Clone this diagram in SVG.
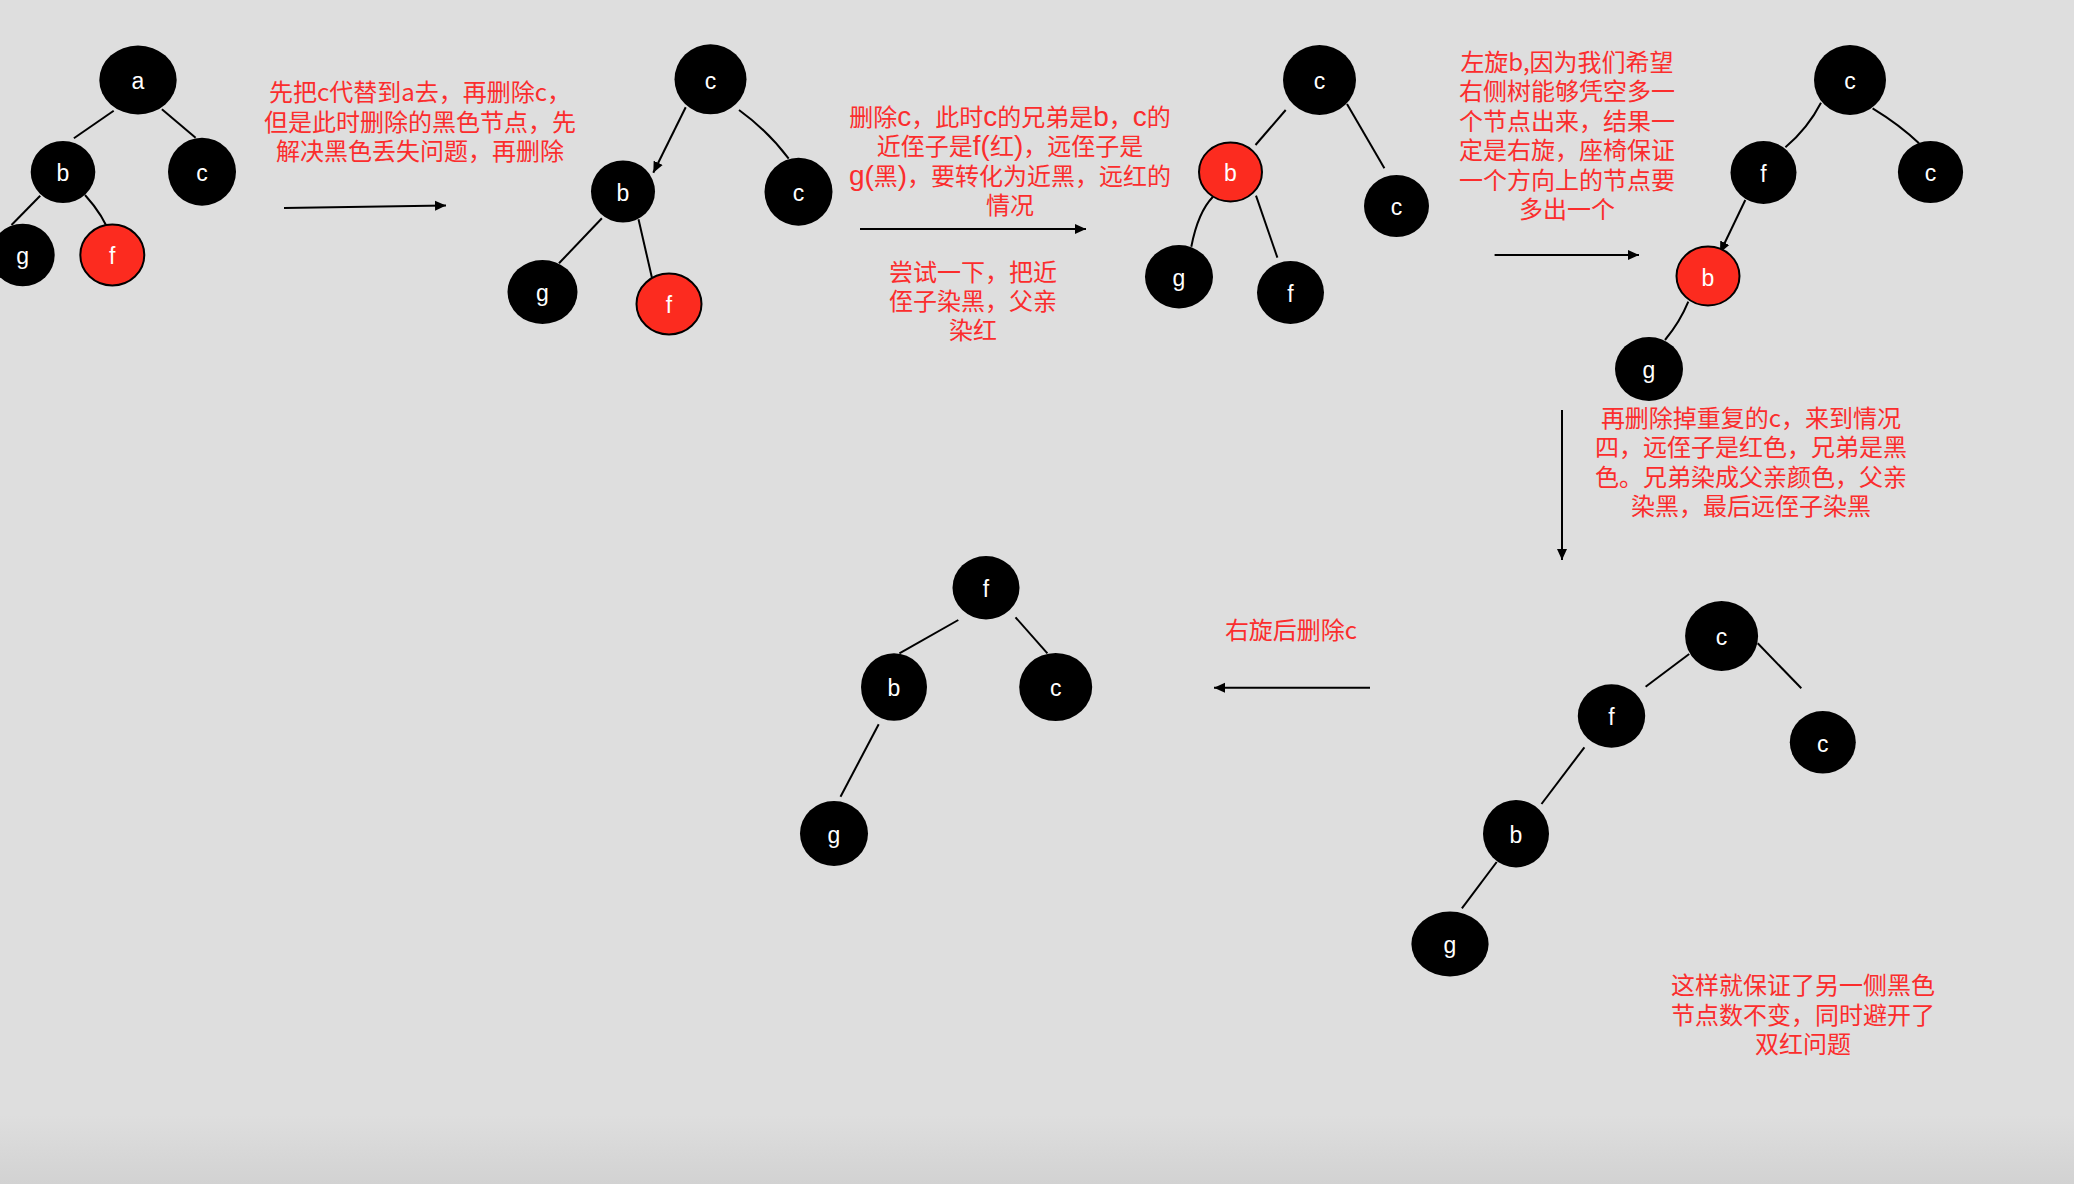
<svg xmlns="http://www.w3.org/2000/svg" width="2074" height="1184" viewBox="0 0 2074 1184">
<defs>
<linearGradient id="bg" x1="0" y1="0" x2="0" y2="1">
<stop offset="0" stop-color="#dedede"/>
<stop offset="1" stop-color="#d2d2d2"/>
</linearGradient>
<marker id="ah" markerUnits="userSpaceOnUse" markerWidth="12" markerHeight="12" refX="11" refY="6" orient="auto">
<path d="M0,1 L11,6 L0,11 z" fill="#000"/>
</marker>
<style>
.nb{fill:#000;}
.nr{fill:#fc2b1f;stroke:#000;stroke-width:2;}
.lbl{fill:#fff;font-family:"Liberation Sans","Noto Sans",sans-serif;font-size:23px;text-anchor:middle;}
.e{fill:none;stroke:#000;stroke-width:2;}
.a{fill:none;stroke:#000;stroke-width:2;marker-end:url(#ah);}
.t{fill:#fb2d2d;font-family:"Noto Sans CJK SC","Liberation Sans",sans-serif;font-size:24px;text-anchor:middle;}
.lat{font-family:"Liberation Sans","Noto Sans CJK SC",sans-serif;font-size:28px;}
</style>
</defs>
<rect x="0" y="0" width="2074" height="1184" fill="#dedede"/>
<rect x="0" y="1115" width="2074" height="69" fill="url(#bg)"/>

<g id="connectors">
<!-- tree 1 -->
<line class="e" x1="113.7" y1="110.7" x2="73.9" y2="138.3"/>
<line class="e" x1="161.9" y1="109.3" x2="195.6" y2="137.7"/>
<line class="e" x1="40.2" y1="195.7" x2="11.5" y2="225"/>
<path class="e" d="M85,195 Q104,216 111,237"/>
<!-- tree 2 -->
<line class="a" x1="685.7" y1="107.3" x2="653.3" y2="172.7"/>
<path class="e" d="M739,110 Q768,131 788.7,158.7"/>
<line class="e" x1="601.9" y1="218.3" x2="559" y2="263.3"/>
<line class="e" x1="638.5" y1="219.3" x2="654" y2="286.7"/>
<!-- tree 3 -->
<line class="e" x1="1285.7" y1="110" x2="1255.5" y2="145"/>
<line class="e" x1="1347" y1="104" x2="1384.4" y2="168.3"/>
<path class="e" d="M1213,196.7 Q1198,212 1191.3,246.7"/>
<line class="e" x1="1256" y1="195.7" x2="1277.4" y2="257.7"/>
<!-- tree 4 -->
<path class="e" d="M1821,102.7 Q1808,128 1785.4,147.3"/>
<path class="e" d="M1872.6,108.3 Q1900,125 1919,143.3"/>
<line class="a" x1="1745.3" y1="200" x2="1720" y2="252.7"/>
<path class="e" d="M1688.3,301.7 Q1680,322 1665,340"/>
<!-- tree 5 -->
<line class="e" x1="1689.2" y1="654" x2="1645.6" y2="686.7"/>
<line class="e" x1="1757.7" y1="643.3" x2="1801.3" y2="688.3"/>
<line class="e" x1="1584.4" y1="747.3" x2="1541.5" y2="804"/>
<line class="e" x1="1496.7" y1="862" x2="1461.9" y2="908.3"/>
<!-- tree 6 -->
<line class="e" x1="958.3" y1="620" x2="899.4" y2="653.3"/>
<line class="e" x1="1015.5" y1="617.3" x2="1047.4" y2="653.3"/>
<line class="e" x1="878.7" y1="724.3" x2="840.5" y2="796.7"/>
<!-- step arrows -->
<line class="a" x1="284" y1="208" x2="446" y2="205.5"/>
<line class="a" x1="860" y1="229" x2="1086" y2="229"/>
<line class="a" x1="1494.6" y1="255" x2="1639" y2="255"/>
<line class="a" x1="1562" y1="410" x2="1562" y2="560"/>
<line class="a" x1="1370" y1="687.7" x2="1214" y2="687.7"/>
</g>

<!-- tree 1 -->
<g id="t1-a"><ellipse class="nb" cx="138" cy="80" rx="38.7" ry="34.5"/><text class="lbl" x="138" y="89">a</text></g>
<g id="t1-b"><ellipse class="nb" cx="63" cy="172" rx="32.3" ry="31"/><text class="lbl" x="63" y="181">b</text></g>
<g id="t1-c"><ellipse class="nb" cx="202" cy="171.7" rx="34" ry="34"/><text class="lbl" x="202" y="181">c</text></g>
<g id="t1-g"><ellipse class="nb" cx="22.7" cy="255" rx="32" ry="31.3"/><text class="lbl" x="22.7" y="264">g</text></g>
<g id="t1-f"><ellipse class="nr" cx="112.3" cy="255" rx="32" ry="30.5"/><text class="lbl" x="112.3" y="264">f</text></g>

<!-- tree 2 -->
<g id="t2-c"><ellipse class="nb" cx="710.5" cy="79.3" rx="36" ry="35"/><text class="lbl" x="710.5" y="88.5">c</text></g>
<g id="t2-b"><ellipse class="nb" cx="623" cy="191.5" rx="32" ry="31"/><text class="lbl" x="623" y="200.5">b</text></g>
<g id="t2-c2"><ellipse class="nb" cx="798.5" cy="191.7" rx="34" ry="34"/><text class="lbl" x="798.5" y="201">c</text></g>
<g id="t2-g"><ellipse class="nb" cx="542.5" cy="292" rx="35" ry="32"/><text class="lbl" x="542.5" y="301">g</text></g>
<g id="t2-f"><ellipse class="nr" cx="669" cy="304" rx="32.5" ry="30.5"/><text class="lbl" x="669" y="313">f</text></g>

<!-- tree 3 -->
<g id="t3-c"><ellipse class="nb" cx="1319.5" cy="80" rx="36.5" ry="35"/><text class="lbl" x="1319.5" y="89">c</text></g>
<g id="t3-b"><ellipse class="nr" cx="1230.5" cy="172" rx="31.5" ry="29.5"/><text class="lbl" x="1230.5" y="181">b</text></g>
<g id="t3-c2"><ellipse class="nb" cx="1396.5" cy="206" rx="32.5" ry="31"/><text class="lbl" x="1396.5" y="215">c</text></g>
<g id="t3-g"><ellipse class="nb" cx="1179" cy="276.7" rx="34" ry="31.7"/><text class="lbl" x="1179" y="285.5">g</text></g>
<g id="t3-f"><ellipse class="nb" cx="1290.5" cy="292.5" rx="33.5" ry="31.5"/><text class="lbl" x="1290.5" y="301.5">f</text></g>

<!-- tree 4 -->
<g id="t4-c"><ellipse class="nb" cx="1850" cy="80" rx="36" ry="35"/><text class="lbl" x="1850" y="89">c</text></g>
<g id="t4-f"><ellipse class="nb" cx="1763.5" cy="172.5" rx="33" ry="31.5"/><text class="lbl" x="1763.5" y="181.5">f</text></g>
<g id="t4-c2"><ellipse class="nb" cx="1930.5" cy="172" rx="32.6" ry="31"/><text class="lbl" x="1930.5" y="181">c</text></g>
<g id="t4-b"><ellipse class="nr" cx="1708" cy="276" rx="31.5" ry="29.5"/><text class="lbl" x="1708" y="285.5">b</text></g>
<g id="t4-g"><ellipse class="nb" cx="1649" cy="369" rx="34" ry="32"/><text class="lbl" x="1649" y="378">g</text></g>

<!-- tree 5 -->
<g id="t5-c"><ellipse class="nb" cx="1721.6" cy="636" rx="36.5" ry="35"/><text class="lbl" x="1721.6" y="645">c</text></g>
<g id="t5-f"><ellipse class="nb" cx="1611.5" cy="716" rx="33.7" ry="31.7"/><text class="lbl" x="1611.5" y="725">f</text></g>
<g id="t5-c2"><ellipse class="nb" cx="1822.8" cy="742.3" rx="33" ry="31.3"/><text class="lbl" x="1822.8" y="751.5">c</text></g>
<g id="t5-b"><ellipse class="nb" cx="1516" cy="833.7" rx="33" ry="33.7"/><text class="lbl" x="1516" y="843">b</text></g>
<g id="t5-g"><ellipse class="nb" cx="1450" cy="944" rx="38.6" ry="32.5"/><text class="lbl" x="1450" y="953">g</text></g>

<!-- tree 6 -->
<g id="t6-f"><ellipse class="nb" cx="986" cy="587.7" rx="33.5" ry="31.7"/><text class="lbl" x="986" y="596.5">f</text></g>
<g id="t6-b"><ellipse class="nb" cx="894" cy="687" rx="33" ry="33.8"/><text class="lbl" x="894" y="696">b</text></g>
<g id="t6-c"><ellipse class="nb" cx="1055.7" cy="687" rx="36.5" ry="34"/><text class="lbl" x="1055.7" y="696">c</text></g>
<g id="t6-g"><ellipse class="nb" cx="834" cy="833.5" rx="34" ry="32.5"/><text class="lbl" x="834" y="842.5">g</text></g>

<!-- notes -->
<g id="note1">
<text class="t" x="420" y="101">先把c代替到a去，再删除c，</text>
<text class="t" x="420" y="130.5">但是此时删除的黑色节点，先</text>
<text class="t" x="420" y="160">解决黑色丢失问题，再删除</text>
</g>
<g id="note2">
<text class="t" x="1010" y="125.5">删除<tspan class="lat">c</tspan>，此时<tspan class="lat">c</tspan>的兄弟是<tspan class="lat">b</tspan>，<tspan class="lat">c</tspan>的</text>
<text class="t" x="1010" y="155">近侄子是<tspan class="lat">f(</tspan>红<tspan class="lat">)</tspan>，远侄子是</text>
<text class="t" x="1010" y="184.5"><tspan class="lat">g(</tspan>黑<tspan class="lat">)</tspan>，要转化为近黑，远红的</text>
<text class="t" x="1010" y="214">情况</text>
</g>
<g id="note3">
<text class="t" x="973" y="281">尝试一下，把近</text>
<text class="t" x="973" y="310">侄子染黑，父亲</text>
<text class="t" x="973" y="339">染红</text>
</g>
<g id="note4">
<text class="t" x="1567" y="70.5">左旋b,因为我们希望</text>
<text class="t" x="1567" y="100">右侧树能够凭空多一</text>
<text class="t" x="1567" y="129.5">个节点出来，结果一</text>
<text class="t" x="1567" y="159">定是右旋，座椅保证</text>
<text class="t" x="1567" y="188.5">一个方向上的节点要</text>
<text class="t" x="1567" y="218">多出一个</text>
</g>
<g id="note5">
<text class="t" x="1751" y="426.5">再删除掉重复的c，来到情况</text>
<text class="t" x="1751" y="456">四，远侄子是红色，兄弟是黑</text>
<text class="t" x="1751" y="485.5">色。兄弟染成父亲颜色，父亲</text>
<text class="t" x="1751" y="515">染黑，最后远侄子染黑</text>
</g>
<g id="note6">
<text class="t" x="1291" y="638.5">右旋后删除c</text>
</g>
<g id="note7">
<text class="t" x="1803" y="994">这样就保证了另一侧黑色</text>
<text class="t" x="1803" y="1023.5">节点数不变，同时避开了</text>
<text class="t" x="1803" y="1053">双红问题</text>
</g>
</svg>
